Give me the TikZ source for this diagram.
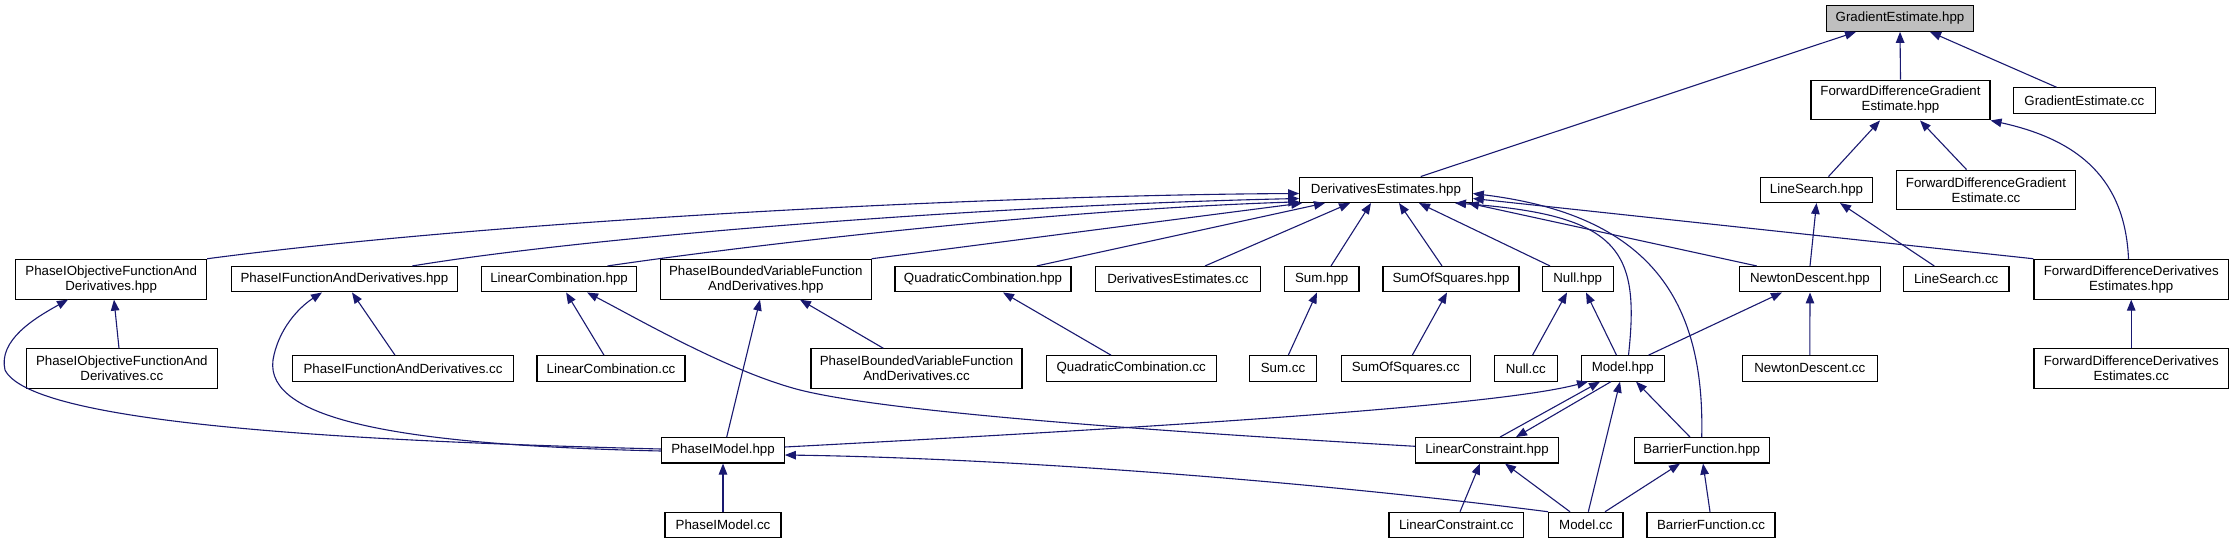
\documentclass[tikz,border=0pt]{standalone}
\usepackage{fontspec}
\setmainfont{Liberation Sans}
\usetikzlibrary{arrows.meta}
\definecolor{edgeblue}{RGB}{25,25,112}
\definecolor{gegray}{RGB}{191,191,191}
\newcommand{\boxfont}{\fontsize{13.3}{15}\selectfont}
\begin{document}
\begin{tikzpicture}[x=1pt,y=-1pt,
  box/.style={draw=black, line width=1.1pt, fill=white, inner sep=0pt, align=center, font=\boxfont, minimum height=25.4pt},
  tall/.style={minimum height=39.8pt},
  edge/.style={draw=edgeblue, line width=1.1pt, -{Triangle[length=11pt,width=8.5pt]}}]
\useasboundingbox (0,0) rectangle (2234,544);
% row 1
\node[box, fill=gegray, minimum width=147.5pt, minimum height=25.6pt] (ge) at (1900,18.5) {GradientEstimate.hpp};
% row 2
\node[box, tall, minimum width=179pt] (fdgeh) at (1900.5,100) {ForwardDifferenceGradient\\Estimate.hpp};
\node[box, minimum width=141.5pt] (gecc) at (2084.3,100.5) {GradientEstimate.cc};
% row 3
\node[box, minimum width=172.5pt] (deh) at (1386,189.8) {DerivativesEstimates.hpp};
\node[box, minimum width=112pt] (lsh) at (1816.5,189.8) {LineSearch.hpp};
\node[box, tall, minimum width=178.5pt] (fdgecc) at (1986,190) {ForwardDifferenceGradient\\Estimate.cc};
% row 4
\node[box, tall, minimum width=190.8pt] (pofadh) at (111.2,279.2) {PhaseIObjectiveFunctionAnd\\Derivatives.hpp};
\node[box, minimum width=226.7pt] (pfadh) at (344.4,279.2) {PhaseIFunctionAndDerivatives.hpp};
\node[box, minimum width=155pt] (lch) at (559.1,279.2) {LinearCombination.hpp};
\node[box, tall, minimum width=210.5pt] (pbvfadh) at (765.8,279.2) {PhaseIBoundedVariableFunction\\AndDerivatives.hpp};
\node[box, minimum width=176pt] (qch) at (983,279.2) {QuadraticCombination.hpp};
\node[box, minimum width=165.5pt] (decc) at (1177.9,279.2) {DerivativesEstimates.cc};
\node[box, minimum width=74.5pt] (sumh) at (1321.7,279.2) {Sum.hpp};
\node[box, minimum width=136pt] (sosh) at (1451,279.2) {SumOfSquares.hpp};
\node[box, minimum width=70.7pt] (nullh) at (1577.7,279.2) {Null.hpp};
\node[box, minimum width=141.4pt] (ndh) at (1810,279.2) {NewtonDescent.hpp};
\node[box, minimum width=105.5pt] (lscc) at (1956.2,279.2) {LineSearch.cc};
\node[box, tall, minimum width=194.5pt] (fddeh) at (2131.2,279.2) {ForwardDifferenceDerivatives\\Estimates.hpp};
% row 5
\node[box, tall, minimum width=191pt] (pofadcc) at (121.8,368.7) {PhaseIObjectiveFunctionAnd\\Derivatives.cc};
\node[box, minimum width=220.6pt] (pfadcc) at (403,368.4) {PhaseIFunctionAndDerivatives.cc};
\node[box, minimum width=148pt] (lccc) at (611,368.4) {LinearCombination.cc};
\node[box, tall, minimum width=211pt] (pbvfadcc) at (916.5,368.7) {PhaseIBoundedVariableFunction\\AndDerivatives.cc};
\node[box, minimum width=169.7pt] (qccc) at (1131.2,368.4) {QuadraticCombination.cc};
\node[box, minimum width=66.7pt] (sumcc) at (1283,368.4) {Sum.cc};
\node[box, minimum width=129.3pt] (soscc) at (1405.7,368.4) {SumOfSquares.cc};
\node[box, minimum width=62.7pt] (nullcc) at (1525.7,368.4) {Null.cc};
\node[box, minimum width=83pt] (modelh) at (1622.8,368.4) {Model.hpp};
\node[box, minimum width=134.5pt] (ndcc) at (1809.8,368.4) {NewtonDescent.cc};
\node[box, tall, minimum width=194.5pt] (fddecc) at (2131.2,368.7) {ForwardDifferenceDerivatives\\Estimates.cc};
% row 6
\node[box, minimum width=122.6pt] (pmh) at (723,450.3) {PhaseIModel.hpp};
\node[box, minimum width=142.6pt] (lconh) at (1487,450.3) {LinearConstraint.hpp};
\node[box, minimum width=134.7pt] (bfh) at (1701.7,450.3) {BarrierFunction.hpp};
% row 7
\node[box, minimum width=116pt] (pmcc) at (723,525) {PhaseIModel.cc};
\node[box, minimum width=134.7pt] (lconcc) at (1456.3,525) {LinearConstraint.cc};
\node[box, minimum width=74.3pt] (modelcc) at (1585.8,525) {Model.cc};
\node[box, minimum width=128pt] (bfcc) at (1711,525) {BarrierFunction.cc};
% edges to GradientEstimate.hpp
\draw[edge] ([xshift=34.7pt]deh.north) -- ([xshift=-44pt]ge.south);
\draw[edge] (fdgeh.north) -- (ge.south);
\draw[edge] ([xshift=-27.8pt]gecc.north) -- ([xshift=30pt]ge.south);
% edges to ForwardDifferenceGradientEstimate.hpp
\draw[edge] ([xshift=12pt]lsh.north) -- ([xshift=-20.5pt]fdgeh.south);
\draw[edge] ([xshift=-19.5pt]fdgecc.north) -- ([xshift=19.5pt]fdgeh.south);
\draw[edge] ([xshift=-2.7pt]fddeh.north) .. controls (2125,180) and (2080,140) .. (fdgeh.south east);
% edges to LineSearch.hpp
\draw[edge] (ndh.north) -- (lsh.south);
\draw[edge] ([xshift=-22pt]lscc.north) -- ([xshift=23.5pt]lsh.south);
% edges to DerivativesEstimates.hpp
\draw[edge] (pofadh.north east) .. controls (500,220) and (1000,195) .. ([yshift=-3.7pt]deh.west);
\draw[edge] ([xshift=67.9pt]pfadh.north) .. controls (600,235) and (1000,205) .. ([yshift=-8.7pt]deh.west);
\draw[edge] ([xshift=48.4pt]lch.north) .. controls (750,245) and (1050,210) .. ([yshift=-12pt]deh.west);
\draw[edge] (pbvfadh.north east) -- ([xshift=3pt]deh.south west);
\draw[edge] ([xshift=53.7pt]qch.north) -- ([xshift=-61pt]deh.south);
\draw[edge] ([xshift=27.1pt]decc.north) -- ([xshift=-36pt]deh.south);
\draw[edge] ([xshift=9.3pt]sumh.north) -- ([xshift=-15pt]deh.south);
\draw[edge] ([xshift=-9pt]sosh.north) -- ([xshift=13pt]deh.south);
\draw[edge] ([xshift=-27.7pt]nullh.north) -- ([xshift=33pt]deh.south);
\draw[edge] ([xshift=5.7pt]modelh.north) .. controls (1640,250) and (1620,215) .. ([xshift=69pt]deh.south);
\draw[edge] (bfh.north) .. controls (1705,300) and (1650,215) .. ([yshift=-3.7pt]deh.east);
\draw[edge] ([xshift=-53.3pt]ndh.north) -- ([xshift=82pt]deh.south);
\draw[edge] (fddeh.north west) -- ([yshift=-8.7pt]deh.east);
% row 4 parents
\draw[edge] ([xshift=-2.8pt]pofadcc.north) -- ([xshift=2.8pt]pofadh.south);
\draw[edge] ([yshift=1.3pt]pmh.west) .. controls (300,440) and (30,420) .. (5,370) .. controls (-2,340) and (35,318) .. ([xshift=-43.2pt]pofadh.south);
\draw[edge] ([yshift=-0.7pt]pmh.west) .. controls (400,445) and (265,420) .. (273,360) .. controls (278,330) and (298,308) .. ([xshift=-22.4pt]pfadh.south);
\draw[edge] ([xshift=-8pt]pfadcc.north) -- ([xshift=7.6pt]pfadh.south);
\draw[edge] ([xshift=-7pt]lccc.north) -- ([xshift=7pt]lch.south);
\draw[edge] ([yshift=4pt]lconh.west) .. controls (1100,428) and (880,410) .. (800,390) .. controls (730,372) and (640,320) .. ([xshift=28pt]lch.south);
\draw[edge] ([xshift=3.7pt]pmh.north) -- ([xshift=-5.8pt]pbvfadh.south);
\draw[edge] ([xshift=-33.2pt]pbvfadcc.north) -- ([xshift=34.2pt]pbvfadh.south);
\draw[edge] ([xshift=-20.2pt]qccc.north) -- ([xshift=20pt]qch.south);
\draw[edge] ([xshift=5.3pt]sumcc.north) -- ([xshift=-4.7pt]sumh.south);
\draw[edge] ([xshift=6.6pt]soscc.north) -- ([xshift=-4pt]sosh.south);
\draw[edge] ([xshift=6.8pt]nullcc.north) -- ([xshift=-10.7pt]nullh.south);
\draw[edge] ([xshift=-6.3pt]modelh.north) -- ([xshift=8.3pt]nullh.south);
\draw[edge] ([xshift=25.7pt]modelh.north) -- ([xshift=-28pt]ndh.south);
\draw[edge] (ndcc.north) -- (ndh.south);
\draw[edge] (fddecc.north) -- (fddeh.south);
% edges to Model.hpp
\draw[edge] ([yshift=3.3pt]pmh.east) .. controls (1200,425) and (1500,405) .. ([xshift=-34.8pt]modelh.south);
\draw[edge] ([xshift=13pt]lconh.north) -- ([xshift=-22.8pt]modelh.south);
\draw[edge] ([xshift=-11.8pt]modelh.south) -- ([xshift=29pt]lconh.north);
\draw[edge] ([xshift=2.5pt]modelcc.north) -- ([xshift=-2.8pt]modelh.south);
\draw[edge] ([xshift=-11.7pt]bfh.north) -- ([xshift=13.2pt]modelh.south);
% bottom rows
\draw[edge] (pmcc.north) -- (pmh.south);
\draw[edge] (modelcc.north west) .. controls (1300,480) and (1000,458) .. ([yshift=-4.7pt]pmh.east);
\draw[edge] ([xshift=3.7pt]lconcc.north) -- ([xshift=-7pt]lconh.south);
\draw[edge] ([xshift=-15.8pt]modelcc.north) -- ([xshift=18pt]lconh.south);
\draw[edge] ([xshift=19.2pt]modelcc.north) -- ([xshift=-21.7pt]bfh.south);
\draw[edge] ([xshift=-1pt]bfcc.north) -- ([xshift=1.3pt]bfh.south);
\end{tikzpicture}
\end{document}
